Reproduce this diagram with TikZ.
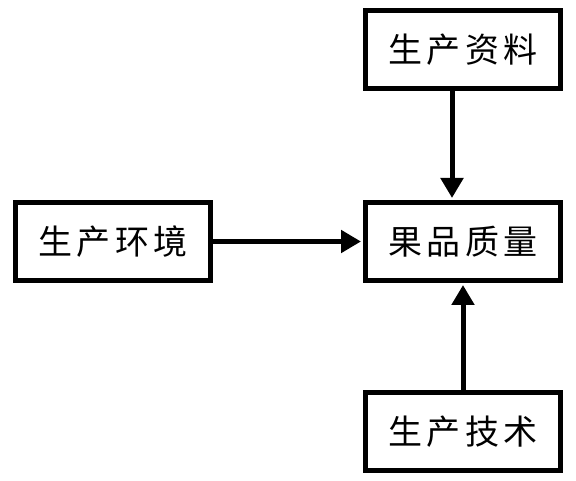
\documentclass[tikz,border=0pt]{standalone}
\usepackage{fontspec}
\newfontfamily\cjk[LetterSpace=12]{Noto Sans CJK SC}
\usetikzlibrary{arrows.meta}
\begin{document}
\begin{tikzpicture}[x=1pt,y=-1pt,
  box/.style={draw=black,line width=5pt,minimum width=195pt,minimum height=78pt,inner sep=0pt,
    font=\fontsize{34pt}{38pt}\cjk},
  arr/.style={line width=5pt,-{Triangle[length=20pt,width=22pt]},shorten >=2pt}]
\useasboundingbox (0,0) rectangle (576,481);
\node[box] (tp) at (463,50) {生产资料};
\node[box] (lf) at (113,241.5) {生产环境};
\node[box] (ctr) at (463,241.5) {果品质量};
\node[box] (bt) at (463,431.5) {生产技术};
\draw[arr] ([xshift=-11pt]tp.south) -- ([xshift=-11pt]ctr.north);
\draw[arr] (lf.east) -- (ctr.west);
\draw[arr] (bt.north) -- (ctr.south);
\end{tikzpicture}
\end{document}
